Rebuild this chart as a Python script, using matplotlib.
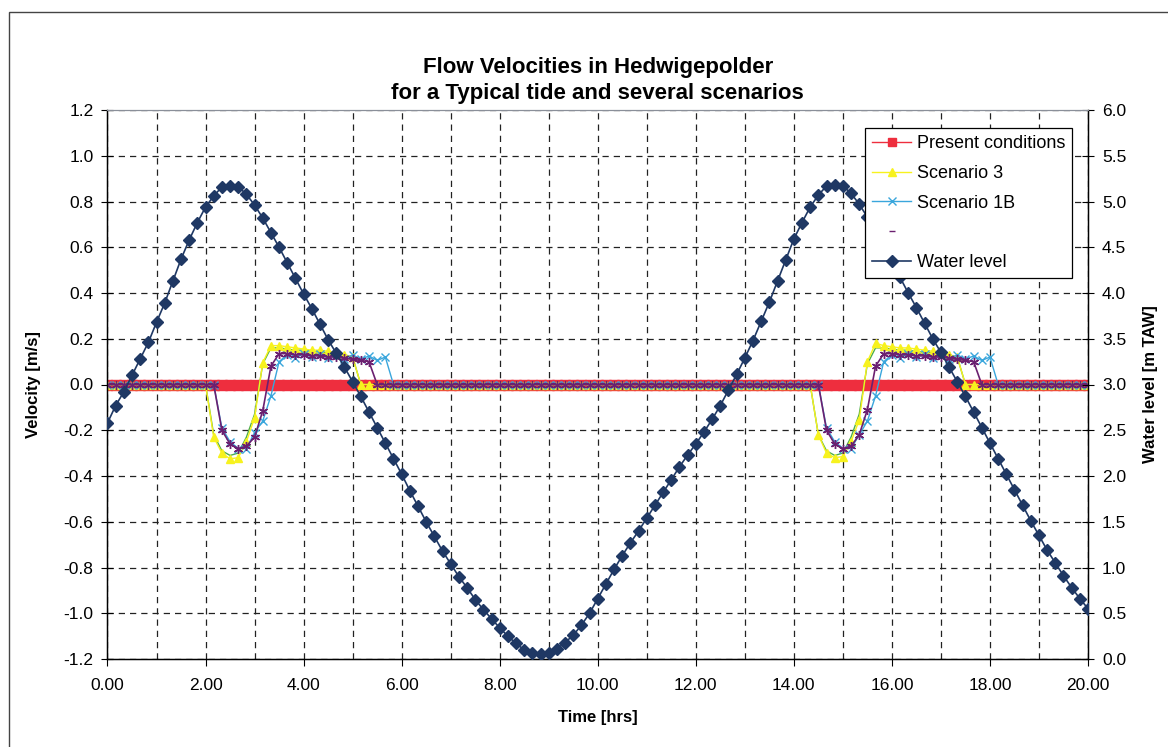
import numpy as np
import matplotlib
matplotlib.use("Agg")
import matplotlib.pyplot as plt
from matplotlib.lines import Line2D
from matplotlib.patches import Rectangle
from matplotlib.ticker import MultipleLocator, FormatStrFormatter

plt.rcParams['font.family'] = ['Liberation Sans', 'DejaVu Sans']
plt.rcParams['axes.unicode_minus'] = False

# ---------------- data ----------------
# time axis: one sample every 10 minutes, 0 .. 20 h (121 samples)
n_samples = 121
time_hrs = np.arange(n_samples) / 6.0

title_lines = ["Flow Velocities in Hedwigepolder", "for a Typical tide and several scenarios"]
series_labels = ["Present conditions", "Scenario 3", "Scenario 1B", "", "Water level"]
x_label = "Time [hrs]"
y_label = "Velocity [m/s]"
y2_label = "Water level [m TAW]"

present_conditions = [0.0] * 121

scenario_3 = ([0.0] * 13 +
              [-0.23, -0.30, -0.325, -0.32, -0.25, -0.145, 0.095, 0.17, 0.17,
               0.165, 0.16, 0.155, 0.15, 0.15, 0.145, 0.14, 0.13, 0.12] +
              [0.0] * 56 +
              [-0.22, -0.30, -0.32, -0.315, -0.25, -0.155, 0.10, 0.18, 0.17,
               0.165, 0.16, 0.16, 0.155, 0.15, 0.145, 0.14, 0.13, 0.12] +
              [0.0] * 16)

scenario_green = ([0.0] * 13 +
                  [-0.22, -0.29, -0.31, -0.30, -0.23, -0.13, 0.09, 0.16, 0.16,
                   0.155, 0.15, 0.15, 0.145, 0.14, 0.14, 0.135, 0.13, 0.12] +
                  [0.0] * 56 +
                  [-0.22, -0.29, -0.31, -0.30, -0.23, -0.13, 0.09, 0.16, 0.16,
                   0.155, 0.15, 0.15, 0.145, 0.14, 0.14, 0.135, 0.13, 0.12] +
                  [0.0] * 16)

scenario_1b = ([0.0] * 14 +
               [-0.19, -0.25, -0.28, -0.28, -0.21, -0.16, -0.05, 0.10, 0.13,
                0.115, 0.135, 0.12, 0.135, 0.115, 0.13, 0.11, 0.13, 0.11,
                0.125, 0.105, 0.12] +
               [0.0] * 53 +
               [-0.19, -0.25, -0.28, -0.28, -0.22, -0.16, -0.05, 0.10, 0.13,
                0.115, 0.135, 0.12, 0.135, 0.115, 0.13, 0.11, 0.13, 0.11,
                0.125, 0.105, 0.12] +
               [0.0] * 12)

scenario_hidden = ([0.0] * 14 +
                   [-0.20, -0.26, -0.28, -0.27, -0.23, -0.115, 0.08, 0.135,
                    0.135, 0.13, 0.13, 0.125, 0.125, 0.12, 0.12, 0.115, 0.11,
                    0.105, 0.10] +
                   [0.0] * 55 +
                   [-0.20, -0.26, -0.28, -0.27, -0.22, -0.11, 0.08, 0.135,
                    0.135, 0.13, 0.13, 0.125, 0.125, 0.12, 0.12, 0.115, 0.11,
                    0.105, 0.10] +
                   [0.0] * 14)

water_level = [
    2.58, 2.77, 2.92, 3.10, 3.28, 3.46, 3.68, 3.89, 4.13, 4.37, 4.58, 4.77,
    4.94, 5.06, 5.16, 5.17, 5.16, 5.08, 4.96, 4.82, 4.66, 4.50, 4.33, 4.16,
    3.99, 3.83, 3.66, 3.49, 3.34, 3.19, 3.03, 2.87, 2.70, 2.53, 2.36, 2.19,
    2.02, 1.84, 1.67, 1.50, 1.34, 1.18, 1.04, 0.90, 0.78, 0.65, 0.54, 0.44,
    0.34, 0.25, 0.17, 0.10, 0.07, 0.055, 0.07, 0.11, 0.18, 0.26, 0.37, 0.50,
    0.66, 0.82, 0.98, 1.13, 1.27, 1.40, 1.54, 1.68, 1.82, 1.96, 2.10, 2.23,
    2.35, 2.48, 2.62, 2.77, 2.94, 3.11, 3.29, 3.48, 3.69, 3.90, 4.13, 4.36,
    4.59, 4.77, 4.94, 5.07, 5.17, 5.18, 5.17, 5.09, 4.97, 4.83, 4.67, 4.51,
    4.34, 4.17, 4.00, 3.84, 3.67, 3.50, 3.35, 3.19, 3.03, 2.87, 2.70, 2.53,
    2.36, 2.19, 2.02, 1.85, 1.68, 1.51, 1.35, 1.19, 1.05, 0.91, 0.78, 0.66,
    0.55,
]

x_ticks = [0, 2, 4, 6, 8, 10, 12, 14, 16, 18, 20]
y_ticks = [-1.2, -1.0, -0.8, -0.6, -0.4, -0.2, 0.0, 0.2, 0.4, 0.6, 0.8, 1.0, 1.2]
y2_ticks = [0.0, 0.5, 1.0, 1.5, 2.0, 2.5, 3.0, 3.5, 4.0, 4.5, 5.0, 5.5, 6.0]

# ---------------- style ----------------
RED = '#ee2e3e'
YELLOW = '#f7f21e'
GREEN = '#4fae4a'
CYAN = '#3aa6dc'
PURPLE = '#6b2070'
NAVY = '#1f3864'
TICK_FS = 12.5
LABEL_FS = 12

fig = plt.figure(figsize=(11.68, 7.47), dpi=100)
ax = fig.add_axes([107.5 / 1168, 1 - 659 / 747, (1088 - 107.5) / 1168, (659 - 110) / 747])

ax.plot(time_hrs, present_conditions, color=RED, marker='s', markersize=6.5,
        linewidth=1.0, zorder=2)
ax.plot(time_hrs, scenario_green, color=GREEN, linewidth=1.0, zorder=2.5)
ax.plot(time_hrs, scenario_3, color=YELLOW, marker='^', markersize=6,
        linewidth=1.0, zorder=3)
ax.plot(time_hrs, scenario_1b, color=CYAN, marker='x', markersize=6,
        markeredgewidth=1.0, linewidth=1.0, zorder=4)
ax.plot(time_hrs, scenario_hidden, color=PURPLE, marker=(6, 2, 0), markersize=6.5,
        markeredgewidth=1.0, linewidth=1.2, zorder=5)

ax.set_xlim(0, 20)
ax.set_ylim(-1.2, 1.2)
ax.set_xticks(x_ticks)
ax.xaxis.set_minor_locator(MultipleLocator(1))
ax.set_yticks(y_ticks)
ax.xaxis.set_major_formatter(FormatStrFormatter('%.2f'))
ax.yaxis.set_major_formatter(FormatStrFormatter('%.1f'))
ax.grid(True, which='both', axis='x', linestyle=(0, (5, 4)), color='#222222', linewidth=0.9)
ax.grid(True, which='major', axis='y', linestyle=(0, (5, 4)), color='#222222', linewidth=0.9)
ax.set_axisbelow(True)
ax.tick_params(axis='x', which='major', direction='out', length=5, labelsize=TICK_FS, pad=9, color='black')
ax.tick_params(axis='x', which='minor', length=0)
ax.tick_params(axis='y', direction='inout', length=8, labelsize=TICK_FS, pad=6)
for s in ['left', 'bottom', 'right']:
    ax.spines[s].set_color('black')
    ax.spines[s].set_linewidth(1.0)
ax.spines['top'].set_color('#8a8f99')
ax.set_xlabel(x_label, fontsize=LABEL_FS, fontweight='bold', labelpad=12)
ax.set_ylabel(y_label, fontsize=LABEL_FS, fontweight='bold', labelpad=16)

ax2 = ax.twinx()
ax2.plot(time_hrs, water_level, color=NAVY, marker='D', markersize=6.5,
         linewidth=1.2, zorder=6)
ax2.set_ylim(0, 6)
ax2.set_yticks(y2_ticks)
ax2.yaxis.set_major_formatter(FormatStrFormatter('%.1f'))
ax2.tick_params(axis='y', direction='inout', length=8, labelsize=TICK_FS, pad=6)
ax2.spines['right'].set_color('black')
ax2.spines['top'].set_color('#8a8f99')
ax2.set_ylabel(y2_label, fontsize=LABEL_FS, fontweight='bold', labelpad=12)

handles = [
    Line2D([], [], color=RED, marker='s', markersize=6, linewidth=1.0),
    Line2D([], [], color=YELLOW, marker='^', markersize=6, linewidth=1.0),
    Line2D([], [], color=CYAN, marker='x', markersize=6, linewidth=1.0),
    Line2D([], [], color=PURPLE, marker='_', markersize=4, linestyle='None'),
    Line2D([], [], color=NAVY, marker='D', markersize=6, linewidth=1.2),
]
leg = ax2.legend(handles, series_labels, loc='upper right',
                 bbox_to_anchor=(0.984, 0.967), borderaxespad=0,
                 fontsize=13, frameon=True, fancybox=False, framealpha=1,
                 edgecolor='black', handlelength=2.15, handletextpad=0.3,
                 labelspacing=0.7, borderpad=0.4)
leg.get_frame().set_linewidth(0.9)
leg.set_zorder(20)

cx = 0.5 * (107.5 + 1088) / 1168
fig.text(cx, 1 - 68 / 747, title_lines[0],
         ha='center', va='center', fontsize=16, fontweight='bold')
fig.text(cx, 1 - 93 / 747, title_lines[1],
         ha='center', va='center', fontsize=16, fontweight='bold')

fig.patches.append(Rectangle((9 / 1168, -0.02), 1.1, 1 - 12 / 747 + 0.02,
                             transform=fig.transFigure, fill=False,
                             edgecolor='#444444', linewidth=1.0))

fig.savefig('out.png', dpi=100, facecolor='white')
